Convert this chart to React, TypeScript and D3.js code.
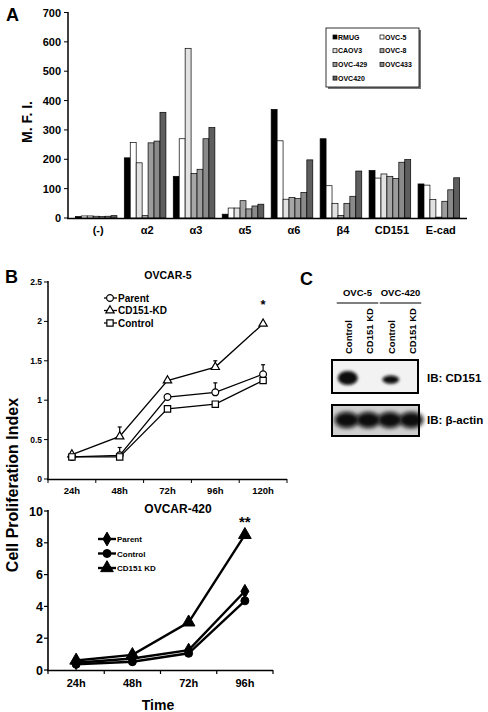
import React from "react";
import * as d3 from "d3";

const FONT = "'Liberation Sans', Arial, Helvetica, sans-serif";

// ---------- Panel A data ----------
const markers = ["(-)", "α2", "α3", "α5", "α6", "β4", "CD151", "E-cad"];
const cellLines = ["RMUG", "OVC-5", "CAOV3", "OVC-8", "OVC-429", "OVC433", "OVC420"];
const cellColors = ["#000000", "#ffffff", "#e2e2e2", "#a6a6a6", "#9c9c9c", "#8a8a8a", "#5e5e5e"];
const mfiRMUG = [5, 205, 142, 13, 370, 270, 162, 116];
const mfiOVC5 = [7, 257, 270, 34, 263, 110, 136, 112];
const mfiCAOV3 = [7, 188, 578, 34, 64, 50, 150, 63];
const mfiOVC8 = [6, 8, 152, 59, 70, 9, 142, 3];
const mfiOVC429 = [5, 256, 166, 31, 66, 50, 135, 57];
const mfiOVC433 = [6, 262, 270, 41, 87, 74, 190, 96];
const mfiOVC420 = [8, 360, 308, 47, 198, 160, 199, 137];
const mfiTicks = [0, 100, 200, 300, 400, 500, 600, 700];

// ---------- Panel B (OVCAR-5) ----------
const times5 = ["24h", "48h", "72h", "96h", "120h"];
const ovc5Parent = [0.28, 0.3, 1.04, 1.1, 1.33];
const ovc5ParentErr = [0, 0.1, 0.03, 0.12, 0.12];
const ovc5KD = [0.31, 0.54, 1.25, 1.42, 1.97];
const ovc5KDErr = [0, 0.12, 0, 0.08, 0];
const ovc5Control = [0.28, 0.28, 0.89, 0.95, 1.25];
const ovc5Ticks = [0, 0.5, 1, 1.5, 2, 2.5];

// ---------- Panel B (OVCAR-420) ----------
const times4 = ["24h", "48h", "72h", "96h"];
const ovc420Parent = [0.46, 0.72, 1.25, 4.95];
const ovc420Control = [0.36, 0.52, 1.05, 4.35];
const ovc420KD = [0.6, 0.95, 3.0, 8.5];
const ovc420Ticks = [0, 2, 4, 6, 8, 10];

// ---------- Panel C ----------
const blotGroups = ["OVC-5", "OVC-420"];
const blotLanes = ["Control", "CD151 KD", "Control", "CD151 KD"];
const cd151Signal = [1, 0, 0.6, 0];
const actinSignal = [1, 1, 1, 1];

export default function App() {
  // Panel A scales
  const xA = d3.scaleBand<string>().domain(markers).range([68, 467]).paddingInner(0.15).paddingOuter(0.15);
  const xA1 = d3.scaleBand<string>().domain(cellLines).range([0, xA.bandwidth()]);
  const yA = d3.scaleLinear().domain([0, 700]).range([218, 12.5]);
  const seriesA = [mfiRMUG, mfiOVC5, mfiCAOV3, mfiOVC8, mfiOVC429, mfiOVC433, mfiOVC420];

  // Panel B top
  const xT = d3.scaleBand<string>().domain(times5).range([48, 287]);
  const yT = d3.scaleLinear().domain([0, 2.5]).range([479, 282]);
  const cxT = (i: number) => (xT(times5[i]) as number) + xT.bandwidth() / 2;
  const lineT = d3.line<number>().x((_, i) => cxT(i)).y((d) => yT(d));

  // Panel B bottom
  const xB = d3.scaleBand<string>().domain(times4).range([48, 273]);
  const yB = d3.scaleLinear().domain([0, 10]).range([670, 511]);
  const cxB = (i: number) => (xB(times4[i]) as number) + xB.bandwidth() / 2;
  const lineB = d3.line<number>().x((_, i) => cxB(i)).y((d) => yB(d));

  const sym = (type: d3.SymbolType, size: number) => d3.symbol().type(type).size(size)() as string;

  // Panel C
  const lanes = d3.scaleBand<number>().domain([0, 1, 2, 3]).range([337, 423]);
  const laneC = (i: number) => (lanes(i) as number) + lanes.bandwidth() / 2;

  const topSeries = [
    { name: "Parent", vals: ovc5Parent, err: ovc5ParentErr, type: d3.symbolCircle, size: 36 },
    { name: "CD151-KD", vals: ovc5KD, err: ovc5KDErr, type: d3.symbolTriangle, size: 30 },
    { name: "Control", vals: ovc5Control, err: null as number[] | null, type: d3.symbolSquare, size: 40 },
  ];
  const botSeries = [
    { name: "Parent", vals: ovc420Parent, type: d3.symbolDiamond, size: 55 },
    { name: "Control", vals: ovc420Control, type: d3.symbolCircle, size: 50 },
    { name: "CD151 KD", vals: ovc420KD, type: d3.symbolTriangle, size: 70 },
  ];

  return (
    <svg width={488} height={712} style={{ position: "absolute", left: 0, top: 0, background: "#fff" }} fontFamily={FONT} fontWeight="bold">
      <defs>
        <filter id="blur1" x="-50%" y="-50%" width="200%" height="200%">
          <feGaussianBlur stdDeviation="1.6" />
        </filter>
        <filter id="blur2" x="-50%" y="-50%" width="200%" height="200%">
          <feGaussianBlur stdDeviation="2" />
        </filter>
      </defs>
      <rect width={488} height={712} fill="#fff" />

      {/* ================= Panel A ================= */}
      <text x={6} y={21} fontSize={18}>A</text>
      <text transform={`translate(32,122) rotate(-90)`} textAnchor="middle" fontSize={14}>M. F. I.</text>
      {mfiTicks.map((t) => (
        <g key={t}>
          <line x1={64} x2={68} y1={yA(t)} y2={yA(t)} stroke="#000" strokeWidth={1} />
          <text x={61} y={yA(t) + 4} textAnchor="end" fontSize={11}>{t}</text>
        </g>
      ))}
      {markers.map((m, i) => (
        <g key={m}>
          {seriesA.map((s, j) => (
            <rect
              key={j}
              x={(xA(m) as number) + (xA1(cellLines[j]) as number)}
              y={yA(s[i])}
              width={xA1.bandwidth()}
              height={yA(0) - yA(s[i])}
              fill={cellColors[j]}
              stroke="#000"
              strokeWidth={0.7}
            />
          ))}
          <text x={(xA(m) as number) + xA.bandwidth() / 2 + 2} y={234} textAnchor="middle" fontSize={11}>{m}</text>
        </g>
      ))}
      <line x1={68} x2={68} y1={12} y2={218.5} stroke="#000" strokeWidth={1.5} />
      <line x1={67} x2={467} y1={218.5} y2={218.5} stroke="#000" strokeWidth={1.5} />
      {/* legend A */}
      <rect x={328} y={30} width={93} height={59} fill="#777" />
      <rect x={326} y={28} width={93} height={59} fill="#fff" stroke="#000" strokeWidth={0.8} />
      {cellLines.map((c, j) => {
        const col = j % 2;
        const row = Math.floor(j / 2);
        const lx = 333 + col * 47;
        const ly = 37 + row * 13.7;
        return (
          <g key={c}>
            <rect x={lx} y={ly - 2} width={4} height={4} fill={cellColors[j]} stroke="#000" strokeWidth={0.7} />
            <text x={lx + 5} y={ly + 2.5} fontSize={7}>{c}</text>
          </g>
        );
      })}

      {/* ================= Panel B ================= */}
      <text x={5} y={283} fontSize={18}>B</text>
      <text transform={`translate(18,485) rotate(-90)`} textAnchor="middle" fontSize={16}>Cell Proliferation Index</text>

      {/* top chart */}
      <text x={168} y={279} textAnchor="middle" fontSize={10.5}>OVCAR-5</text>
      {ovc5Ticks.map((t) => (
        <g key={t}>
          <line x1={44} x2={48} y1={yT(t)} y2={yT(t)} stroke="#000" strokeWidth={1} />
          <text x={42} y={yT(t) + 3} textAnchor="end" fontSize={8.5}>{t}</text>
        </g>
      ))}
      {times5.map((t, i) => (
        <text key={t} x={cxT(i)} y={494} textAnchor="middle" fontSize={9.5}>{t}</text>
      ))}
      {[...times5.map((t) => xT(t) as number), 287].map((x, i) => (
        <line key={i} x1={x} x2={x} y1={479} y2={483} stroke="#000" strokeWidth={1} />
      ))}
      <line x1={48} x2={48} y1={281} y2={479.5} stroke="#000" strokeWidth={1.5} />
      <line x1={47} x2={287} y1={479.5} y2={479.5} stroke="#000" strokeWidth={1.5} />
      {topSeries.map((s) => (
        <g key={s.name}>
          <path d={lineT(s.vals) as string} fill="none" stroke="#000" strokeWidth={1.3} />
          {s.err &&
            s.vals.map((v, i) =>
              s.err![i] > 0 ? (
                <g key={i}>
                  <line x1={cxT(i)} x2={cxT(i)} y1={yT(v)} y2={yT(v + s.err![i])} stroke="#000" strokeWidth={1.2} />
                  <line x1={cxT(i) - 2} x2={cxT(i) + 2} y1={yT(v + s.err![i])} y2={yT(v + s.err![i])} stroke="#000" strokeWidth={1.2} />
                </g>
              ) : null
            )}
        </g>
      ))}
      {topSeries.map((s) => (
        <g key={s.name + "m"}>
          {s.vals.map((v, i) => (
            <path key={i} d={sym(s.type, s.size)} transform={`translate(${cxT(i)},${yT(v)})`} fill="#fff" stroke="#000" strokeWidth={1.2} />
          ))}
        </g>
      ))}
      <text x={cxT(4)} y={309} textAnchor="middle" fontSize={13}>*</text>
      {topSeries.map((s, k) => {
        const ly = 298 + k * 12.5;
        return (
          <g key={s.name + "l"}>
            <line x1={104} x2={117} y1={ly} y2={ly} stroke="#000" strokeWidth={1.3} />
            <path d={sym(s.type, s.size)} transform={`translate(${110},${ly})`} fill="#fff" stroke="#000" strokeWidth={1.2} />
            <text x={118} y={ly + 3.5} fontSize={10}>{s.name}</text>
          </g>
        );
      })}

      {/* bottom chart */}
      <text x={178} y={513} textAnchor="middle" fontSize={12}>OVCAR-420</text>
      {ovc420Ticks.map((t) => (
        <g key={t}>
          <line x1={44} x2={48} y1={yB(t)} y2={yB(t)} stroke="#000" strokeWidth={1.2} />
          <text x={43} y={yB(t) + 4.5} textAnchor="end" fontSize={12.5}>{t}</text>
        </g>
      ))}
      {times4.map((t, i) => (
        <text key={t} x={cxB(i)} y={687} textAnchor="middle" fontSize={11}>{t}</text>
      ))}
      {[...times4.map((t) => xB(t) as number), 273].map((x, i) => (
        <line key={i} x1={x} x2={x} y1={670} y2={674} stroke="#000" strokeWidth={1.2} />
      ))}
      <line x1={48} x2={48} y1={510} y2={670.5} stroke="#000" strokeWidth={1.6} />
      <line x1={47} x2={273} y1={670.5} y2={670.5} stroke="#000" strokeWidth={1.6} />
      {botSeries.map((s) => (
        <g key={s.name}>
          <path d={lineB(s.vals) as string} fill="none" stroke="#000" strokeWidth={2.4} />
          {s.vals.map((v, i) => (
            <path key={i} d={sym(s.type, s.size)} transform={`translate(${cxB(i)},${yB(v)})`} fill="#000" stroke="#000" strokeWidth={1} />
          ))}
        </g>
      ))}
      <text x={cxB(3)} y={527} textAnchor="middle" fontSize={15}>**</text>
      {botSeries.map((s, k) => {
        const ly = 539 + k * 14.5;
        return (
          <g key={s.name + "l"}>
            <line x1={98} x2={116} y1={ly} y2={ly} stroke="#000" strokeWidth={2.4} />
            <path d={sym(s.type, s.size)} transform={`translate(${107},${ly})`} fill="#000" stroke="#000" strokeWidth={1} />
            <text x={117} y={ly + 3} fontSize={8}>{s.name}</text>
          </g>
        );
      })}
      <text x={158} y={710} textAnchor="middle" fontSize={14}>Time</text>

      {/* ================= Panel C ================= */}
      <text x={300} y={285} fontSize={18}>C</text>
      {blotGroups.map((g, gi) => {
        const x0 = laneC(gi * 2) - 11;
        const x1 = laneC(gi * 2 + 1) + 9;
        return (
          <g key={g}>
            <text x={(x0 + x1) / 2} y={296} textAnchor="middle" fontSize={9.5}>{g}</text>
            <line x1={x0} x2={x1} y1={303} y2={303} stroke="#000" strokeWidth={1.2} />
          </g>
        );
      })}
      {blotLanes.map((l, i) => (
        <text key={i} transform={`translate(${laneC(i) + 4},354) rotate(-90)`} fontSize={9.5}>{l}</text>
      ))}
      <rect x={332} y={360} width={86} height={33} fill="#f2f2f2" stroke="#000" strokeWidth={2} />
      {cd151Signal.map((s, i) =>
        s > 0 ? (
          <ellipse key={i} cx={laneC(i)} cy={378 + (1 - s) * 4} rx={10 * (0.6 + 0.4 * s)} ry={7 * s} fill="#0a0a0a" filter="url(#blur1)" />
        ) : null
      )}
      <text x={427} y={382} fontSize={11.5}>IB: CD151</text>
      <rect x={332} y={405} width={87} height={31} fill="#cfcfcf" stroke="#000" strokeWidth={2} />
      {actinSignal.map((s, i) => (
        <ellipse key={i} cx={laneC(i) - 1} cy={420} rx={12 * s} ry={8 * s} fill="#080808" filter="url(#blur2)" />
      ))}
      <rect x={332} y={405} width={87} height={31} fill="none" stroke="#000" strokeWidth={2} />
      <text x={427} y={424} fontSize={11.5}>IB: β-actin</text>
    </svg>
  );
}
